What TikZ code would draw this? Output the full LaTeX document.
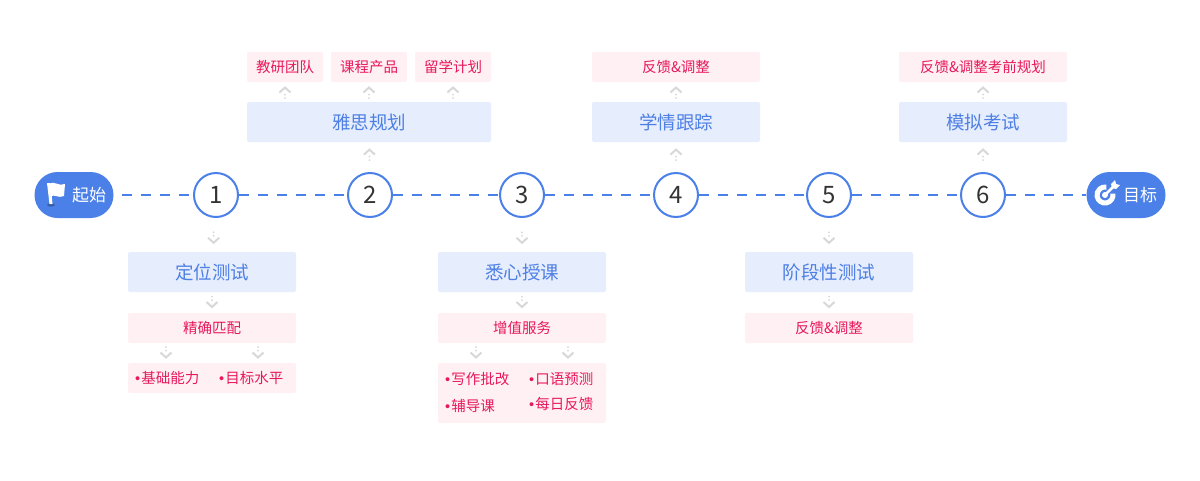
\documentclass[tikz,border=0pt]{standalone}
\usepackage{fontspec}
\setmainfont{Noto Sans CJK SC}
\newfontfamily\bulletfont{Liberation Sans}
\usetikzlibrary{calc}
\definecolor{mainblue}{HTML}{4A80E8}
\definecolor{boxblue}{HTML}{E6EEFE}
\definecolor{txtblue}{HTML}{4E7FE4}
\definecolor{boxpink}{HTML}{FFF0F4}
\definecolor{txtpink}{HTML}{E8195A}
\definecolor{chevgrey}{HTML}{D8D8D8}
\definecolor{numgrey}{HTML}{333333}
\newcommand{\bul}{{\bulletfont•}\hspace{1pt}}
\tikzset{
  stepnum/.style={circle, draw=mainblue, line width=2pt, fill=white, minimum size=44pt, inner sep=0pt, text=numgrey, font=\fontsize{24}{24}\selectfont},
  endpill/.style={rounded corners=23pt, fill=mainblue, minimum width=79pt, minimum height=46pt, inner sep=0pt},
  pilltext/.style={text=white, inner sep=0pt, font=\fontsize{17}{17}\selectfont},
  mainbox/.style={rounded corners=2pt, fill=boxblue, text=txtblue, minimum width=168pt, minimum height=40pt, inner sep=0pt, font=\fontsize{18.5}{18.5}\selectfont},
  subbox/.style={rounded corners=2pt, fill=boxpink, text=txtpink, minimum width=168pt, minimum height=30pt, inner sep=0pt, font=\fontsize{14.5}{14.5}\selectfont},
  item/.style={text=txtpink, inner sep=0pt, anchor=west, font=\fontsize{14.5}{14.5}\selectfont},
  dashline/.style={mainblue, line width=2pt, dash pattern=on 10pt off 9pt},
  chevdown/.pic={
    \fill[chevgrey] (0,-6) circle (1pt) (0,-2.5) circle (1pt);
    \draw[chevgrey, line width=2pt] (-5.5,-0.5) -- (0,4.5) -- (5.5,-0.5);
  },
  chevup/.pic={
    \fill[chevgrey] (0,6) circle (1pt) (0,2.5) circle (1pt);
    \draw[chevgrey, line width=2pt] (-5.5,0.5) -- (0,-4.5) -- (5.5,0.5);
  }
}
\begin{document}
\begin{tikzpicture}[x=1pt, y=-1pt]
  \fill[white] (0,0) rectangle (1200,480);
  % time line
  \node [endpill] (start) at (74,195) {};
  \node [endpill] (goal) at (1126,195) {};
  \node [pilltext] (starttxt) at (89,195) {起始};
  \node [pilltext] (goaltxt) at (1140,195) {目标};
  \node [stepnum] (c1) at (216,195) {1};
  \node [stepnum] (c2) at (370,195) {2};
  \node [stepnum] (c3) at (522,195) {3};
  \node [stepnum] (c4) at (676,195) {4};
  \node [stepnum] (c5) at (829,195) {5};
  \node [stepnum] (c6) at (983,195) {6};
  \draw [dashline] ($(start.east)+(8,0)$) -- (c1.west);
  \draw [dashline] (c1.east) -- (c2.west);
  \draw [dashline] (c2.east) -- (c3.west);
  \draw [dashline] (c3.east) -- (c4.west);
  \draw [dashline] (c4.east) -- (c5.west);
  \draw [dashline] (c5.east) -- (c6.west);
  \draw [dashline] (c6.east) -- (goal.west);
  % flag and target icons
  \fill [mainblue!70!black] (51,205) ellipse (4 and 1.5);
  \fill [white] (47,183) -- (50.5,183) -- (52.5,204) -- (49.5,204) -- cycle;
  \fill [white] (49,184) .. controls (54,180) and (59,187) .. (65,184) -- (64,196) .. controls (58,199) and (54,193) .. (50.5,197) -- cycle;
  \draw [white, line width=5pt] ($(1105,195)+(350:8)$) arc [start angle=350, end angle=640, radius=8];
  \fill [white] (1105,195) circle (3);
  \draw [white, line width=2.5pt] (1105,195) -- (1114,186);
  \fill [white] (1111,184) -- (1115,180) -- (1116,184) -- (1120,185) -- (1116,189) -- (1112,188) -- cycle;
  % step 1
  \node [mainbox] (test) at (212,272) {定位测试};
  \node [subbox] (match) at (212,328) {精确匹配};
  \node [subbox] (level) at (212,378) {};
  \node [item] (lv1) at (135,378) {\bul 基础能力};
  \node [item] (lv2) at (219,378) {\bul 目标水平};
  \pic at ($(c1.south)!.6!(test.north)$) {chevdown};
  \pic at ($(test.south)!.5!(match.north)$) {chevdown};
  \pic at ($(match.south)!.5!(level.north)+(-46,0)$) {chevdown};
  \pic at ($(match.south)!.5!(level.north)+(46,0)$) {chevdown};
  % step 2
  \node [mainbox, minimum width=244pt] (plan) at (369,122) {雅思规划};
  \node [subbox, minimum width=76pt] (team) at (285,67) {教研团队};
  \node [subbox, minimum width=76pt] (course) at (369,67) {课程产品};
  \node [subbox, minimum width=76pt] (abroad) at (453,67) {留学计划};
  \pic at ($(c2.north)!.6!(plan.south)$) {chevup};
  \pic at ($(team.south)!.5!(team.south|-plan.north)$) {chevup};
  \pic at ($(course.south)!.5!(plan.north)$) {chevup};
  \pic at ($(abroad.south)!.5!(abroad.south|-plan.north)$) {chevup};
  % step 3
  \node [mainbox] (teach) at (522,272) {悉心授课};
  \node [subbox] (extra) at (522,328) {增值服务};
  \node [subbox, minimum height=60pt] (serv) at (522,393) {};
  \node [item] (sv1) at (445,379) {\bul 写作批改};
  \node [item] (sv2) at (529,379) {\bul 口语预测};
  \node [item] (sv3) at (445,406) {\bul 辅导课};
  \node [item] (sv4) at (529,404) {\bul 每日反馈};
  \pic at ($(c3.south)!.6!(teach.north)$) {chevdown};
  \pic at ($(teach.south)!.5!(extra.north)$) {chevdown};
  \pic at ($(extra.south)!.5!(serv.north)+(-46,0)$) {chevdown};
  \pic at ($(extra.south)!.5!(serv.north)+(46,0)$) {chevdown};
  % step 4
  \node [mainbox] (track) at (676,122) {学情跟踪};
  \node [subbox] (fb4) at (676,67) {反馈\&调整};
  \pic at ($(c4.north)!.6!(track.south)$) {chevup};
  \pic at ($(fb4.south)!.5!(track.north)$) {chevup};
  % step 5
  \node [mainbox] (stage) at (829,272) {阶段性测试};
  \node [subbox] (fb5) at (829,328) {反馈\&调整};
  \pic at ($(c5.south)!.6!(stage.north)$) {chevdown};
  \pic at ($(stage.south)!.5!(fb5.north)$) {chevdown};
  % step 6
  \node [mainbox] (mock) at (983,122) {模拟考试};
  \node [subbox] (fb6) at (983,67) {反馈\&调整考前规划};
  \pic at ($(c6.north)!.6!(mock.south)$) {chevup};
  \pic at ($(fb6.south)!.5!(mock.north)$) {chevup};
\end{tikzpicture}
\end{document}
